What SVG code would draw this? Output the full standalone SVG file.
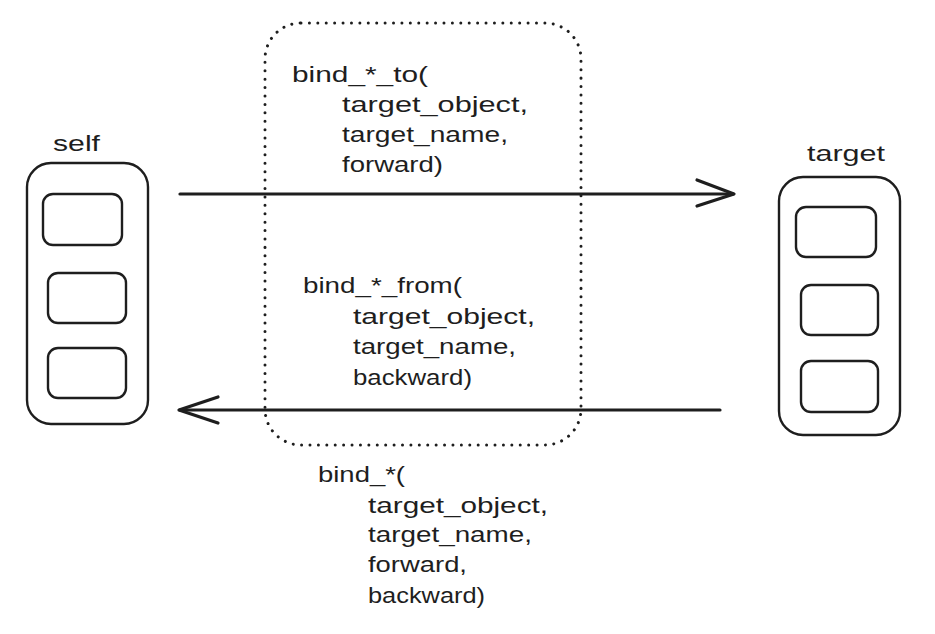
<svg xmlns="http://www.w3.org/2000/svg" width="935" height="634" viewBox="0 0 935 634">
  <defs>
    <style>
      .shape { fill: none; stroke: #1e1e1e; stroke-width: 2.4; stroke-linejoin: round; }
      .slot { fill: none; stroke: #1e1e1e; stroke-width: 2.4; }
      .edge { fill: none; stroke: #1e1e1e; stroke-width: 3.2; stroke-linecap: round; stroke-linejoin: round; }
      .dotted { fill: none; stroke: #1e1e1e; stroke-width: 3; stroke-linecap: round; stroke-dasharray: 0.01 8.4; }
      .label { font-family: "Liberation Sans", "DejaVu Sans", sans-serif; font-size: 22px; fill: #1e1e1e; }
    </style>
  </defs>
  <rect width="935" height="634" fill="#ffffff"/>

  <!-- dotted frame around the one-way bindings -->
  <g id="binding-frame">
    <rect class="dotted" x="265" y="23" width="316" height="422" rx="36" ry="36"/>
  </g>

  <!-- source object -->
  <g id="self">
    <text class="label" x="53" y="151" textLength="47" lengthAdjust="spacingAndGlyphs">self</text>
    <rect class="shape" x="27" y="163" width="121" height="261" rx="24" ry="24"/>
    <rect class="slot" x="43" y="194" width="79" height="51" rx="10" ry="10"/>
    <rect class="slot" x="48" y="273" width="78" height="50" rx="10" ry="10"/>
    <rect class="slot" x="48" y="348" width="78" height="50" rx="10" ry="10"/>
  </g>

  <!-- target object -->
  <g id="target">
    <text class="label" x="807" y="161" textLength="78" lengthAdjust="spacingAndGlyphs">target</text>
    <rect class="shape" x="779" y="177" width="121" height="258" rx="24" ry="24"/>
    <rect class="slot" x="796" y="207" width="80" height="50" rx="10" ry="10"/>
    <rect class="slot" x="801" y="285" width="77" height="50" rx="10" ry="10"/>
    <rect class="slot" x="801" y="361" width="77" height="51" rx="10" ry="10"/>
  </g>

  <!-- connectors -->
  <g id="connectors">
    <path class="edge" d="M180 194 L733 194"/>
    <path class="edge" d="M697 180 L734 194 L697 206"/>
    <path class="edge" d="M720 410 L180 410"/>
    <path class="edge" d="M218 397 L179 410 L218 423"/>
  </g>

  <!-- forward binding signature -->
  <g id="bind-to">
    <text class="label" x="292" y="82" textLength="136" lengthAdjust="spacingAndGlyphs">bind_*_to(</text>
    <text class="label" x="342" y="112" textLength="186" lengthAdjust="spacingAndGlyphs">target_object,</text>
    <text class="label" x="342" y="142" textLength="166" lengthAdjust="spacingAndGlyphs">target_name,</text>
    <text class="label" x="342" y="172" textLength="101" lengthAdjust="spacingAndGlyphs">forward)</text>
  </g>

  <!-- backward binding signature -->
  <g id="bind-from">
    <text class="label" x="303" y="293" textLength="159" lengthAdjust="spacingAndGlyphs">bind_*_from(</text>
    <text class="label" x="353" y="324" textLength="182" lengthAdjust="spacingAndGlyphs">target_object,</text>
    <text class="label" x="353" y="354" textLength="163" lengthAdjust="spacingAndGlyphs">target_name,</text>
    <text class="label" x="353" y="385" textLength="119" lengthAdjust="spacingAndGlyphs">backward)</text>
  </g>

  <!-- two-way binding signature -->
  <g id="bind-both">
    <text class="label" x="318" y="482" textLength="87" lengthAdjust="spacingAndGlyphs">bind_*(</text>
    <text class="label" x="368" y="513" textLength="180" lengthAdjust="spacingAndGlyphs">target_object,</text>
    <text class="label" x="368" y="542" textLength="164" lengthAdjust="spacingAndGlyphs">target_name,</text>
    <text class="label" x="368" y="572" textLength="99" lengthAdjust="spacingAndGlyphs">forward,</text>
    <text class="label" x="368" y="603" textLength="117" lengthAdjust="spacingAndGlyphs">backward)</text>
  </g>
</svg>
